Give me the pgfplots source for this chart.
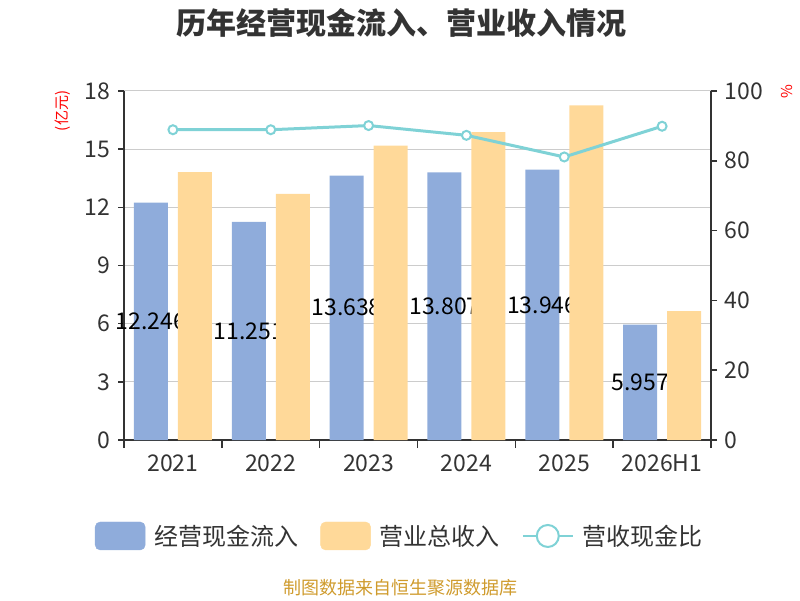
\documentclass[border=0pt]{standalone}
\usepackage{fontspec}
\setmainfont{Noto Sans CJK SC}
\usepackage{pgfplots}
\pgfplotsset{compat=1.18}
\definecolor{cblue}{RGB}{143,172,219}
\definecolor{corange}{RGB}{255,217,153}
\definecolor{cline}{RGB}{127,210,214}
\definecolor{ctext}{RGB}{51,51,51}
\definecolor{cgrid}{RGB}{204,204,204}
\definecolor{cfoot}{RGB}{207,155,45}

\pgfplotstableread{
x cash rev half label
0 12.246 13.82 6.123 12.246
1 11.251 12.69 5.625 11.251
2 13.638 15.18 6.819 13.638
3 13.807 15.88 6.903 13.807
4 13.946 17.26 6.973 13.946
5 5.957 6.65 2.979 5.957
}\datatable
\pgfplotstableread{
x ratio
0 88.9
1 88.9
2 90.1
3 87.3
4 81.1
5 89.9
}\ratiotable

\begin{document}
\begin{tikzpicture}
\path[use as bounding box] (0pt,0pt) rectangle (800pt,600pt);
\node[font=\fontsize{30}{35}\selectfont\bfseries, text=ctext] at (401pt,577pt) {历年经营现金流入、营业收入情况};
\node[font=\fontsize{18}{21}\selectfont, text=cfoot] at (400pt,12pt) {制图数据来自恒生聚源数据库};
\node[font=\fontsize{15}{18}\selectfont, text=red, rotate=90] at (63pt,489pt) {(亿元)};
\node[font=\fontsize{15}{18}\selectfont, text=red, rotate=90] at (787pt,508pt) {\%};

\begin{axis}[
  name=main,
  at={(124pt,160pt)}, anchor=south west, scale only axis,
  width=587pt, height=349pt,
  xmin=-0.5, xmax=5.5, ymin=0, ymax=18,
  ytick={0,3,...,18},
  xtick={0,...,5}, xticklabels={2021,2022,2023,2024,2025,2026H1},
  minor xtick={-0.5,0.5,...,5.5},
  axis x line*=bottom, axis y line*=left,
  axis line style={ctext, line width=2pt},
  tick align=outside, major tick length=6pt, minor tick length=8pt,
  major x tick style={draw=none},
  tick style={ctext, line width=1.5pt},
  ymajorgrids, grid style={cgrid, line width=1pt},
  ticklabel style={font=\fontsize{23}{27}\selectfont, text=ctext},
  yticklabel style={xshift=-4pt},
  xticklabel style={yshift=-5pt},
  /pgf/number format/assume math mode=true,
  clip=false,
]
\addplot[ybar, bar width=34pt, bar shift=-22pt, fill=cblue, draw=none] table[x=x, y=cash] {\datatable};
\addplot[draw=none, mark=none, nodes near coords, point meta=explicit symbolic,
  nodes near coords style={anchor=center, xshift=-22pt, font=\fontsize{23}{27}\selectfont, text=black}]
  table[x=x, y=half, meta=label] {\datatable};
\end{axis}

\begin{axis}[
  at={(main.south west)}, anchor=south west, scale only axis,
  width=587pt, height=349pt,
  xmin=-0.5, xmax=5.5, ymin=0, ymax=18,
  hide axis, clip=false,
]
\addplot[ybar, bar width=34pt, bar shift=22pt, fill=corange, draw=none] table[x=x, y=rev] {\datatable};
\end{axis}

\begin{axis}[
  at={(main.south west)}, anchor=south west, scale only axis,
  width=587pt, height=349pt,
  xmin=-0.5, xmax=5.5, ymin=0, ymax=100,
  ytick={0,20,...,100},
  axis y line*=right, axis x line=none,
  axis line style={ctext, line width=2pt},
  tick align=outside, major tick length=6pt,
  tick style={ctext, line width=1.5pt},
  ticklabel style={font=\fontsize{23}{27}\selectfont, text=ctext},
  yticklabel style={xshift=4pt},
  /pgf/number format/assume math mode=true,
  clip=false,
  legend columns=3,
  legend style={at={(0.47,-0.275)}, anchor=center, draw=none, fill=none,
    font=\fontsize{24}{28}\selectfont, text=ctext,
    /tikz/every odd column/.append style={column sep=7pt},
    /tikz/every even column/.append style={column sep=20pt}},
]
\addlegendimage{legend image code/.code={\fill[cblue, rounded corners=5pt] (0pt,-14pt) rectangle (50pt,14pt);}}
\addlegendentry{经营现金流入}
\addlegendimage{legend image code/.code={\fill[corange, rounded corners=5pt] (0pt,-14pt) rectangle (50pt,14pt);}}
\addlegendentry{营业总收入}
\addplot[cline, line width=3pt, mark=*, mark size=4.5pt,
  mark options={fill=white, draw=cline, line width=2pt},
  legend image code/.code={\draw[cline, line width=2pt] (0pt,0pt) -- (50pt,0pt); \draw[cline, line width=2pt, fill=white] (25pt,0pt) circle (11pt);}]
  table[x=x, y=ratio] {\ratiotable};
\addlegendentry{营收现金比}
\end{axis}
\end{tikzpicture}
\end{document}
